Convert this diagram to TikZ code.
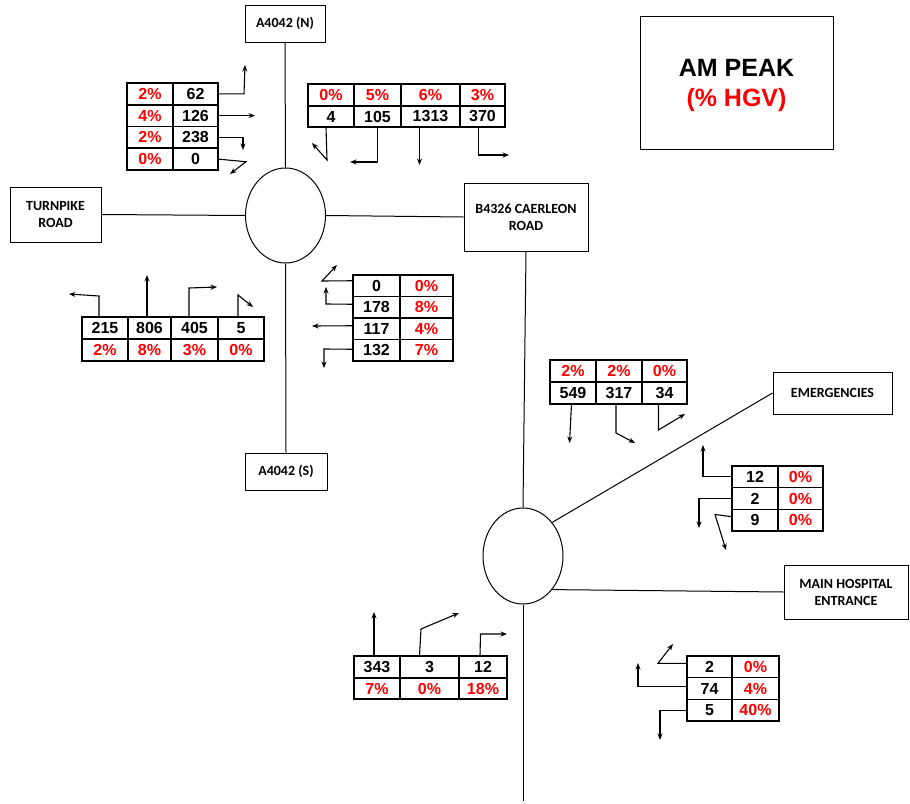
\documentclass[tikz,border=0pt]{standalone}
\usepackage{fontspec}
\setmainfont{Liberation Sans}
\newfontfamily\carlito{Carlito}
\usetikzlibrary{shapes.geometric,arrows.meta}
\newcommand\tcell[7]{\node[cellbox,#7,minimum width=#4pt,minimum height=#5pt] (#1) at (#2,#3) {#6};}
\begin{document}
\begin{tikzpicture}[x=1pt,y=-1pt,
  cellbox/.style={draw, line width=1.6pt, inner sep=0pt, outer sep=0pt, font=\fontsize{16}{16}\selectfont\bfseries},
  pc/.style={text=red},
  roadbox/.style={draw, line width=1pt, inner sep=0pt, align=center, font=\carlito\bfseries\fontsize{14}{17}\selectfont},
  road/.style={line width=1pt},
  arr/.style={line width=1.1pt, -{Stealth[length=6.5pt,width=5pt]}},
]
\useasboundingbox (0,0) rectangle (910,803);

% road boxes
\node[roadbox, minimum width=80pt, minimum height=37pt] (N) at (285,23.5) {A4042 (N)};
\node[roadbox, minimum width=91pt, minimum height=55pt] (TP) at (55.5,214.5) {TURNPIKE\\ROAD};
\node[roadbox, minimum width=124pt, minimum height=68pt] (CR) at (526,217) {B4326 CAERLEON\\ROAD};
\node[roadbox, minimum width=82pt, minimum height=37pt] (S) at (286,471.5) {A4042 (S)};
\node[roadbox, minimum width=119pt, minimum height=42pt] (EM) at (832.5,393) {EMERGENCIES};
\node[roadbox, minimum width=124pt, minimum height=54pt] (MH) at (846,592) {MAIN HOSPITAL\\ENTRANCE};
\node[draw, line width=1pt, minimum width=193pt, minimum height=133pt] (AM) at (736.5,82.5) {};
\node[align=center, font=\fontsize{25}{30}\selectfont\bfseries] (AMT) at (736.5,85.5) {AM PEAK\\\textcolor{red}{(\% HGV)}};

% roundabouts
\node[draw, ellipse, line width=1pt, minimum width=80pt, minimum height=95pt, inner sep=0pt] (E1) at (285.5,215.5) {};
\node[draw, ellipse, line width=1pt, minimum width=80pt, minimum height=96pt, inner sep=0pt] (E2) at (523,556) {};
\coordinate (bot) at (523,801);

\draw[road] (N.south) -- (E1.north);
\draw[road] (TP.east) -- (E1.west);
\draw[road] (E1.east) -- (CR.west);
\draw[road] (E1.south) -- (S.north);
\draw[road] (CR.south) -- (E2.north);
\draw[road] (E2.49) -- (EM.west);
\draw[road] (E2.-49) -- (MH.west);
\draw[road] (E2.south) -- (bot);

% Table 1
\tcell{t1a1}{150}{93.9}{46}{21.75}{2\%}{pc}
\tcell{t1b1}{195.5}{93.9}{45}{21.75}{62}{}
\tcell{t1a2}{150}{115.6}{46}{21.75}{4\%}{pc}
\tcell{t1b2}{195.5}{115.6}{45}{21.75}{126}{}
\tcell{t1a3}{150}{137.4}{46}{21.75}{2\%}{pc}
\tcell{t1b3}{195.5}{137.4}{45}{21.75}{238}{}
\tcell{t1a4}{150}{159.1}{46}{21.75}{0\%}{pc}
\tcell{t1b4}{195.5}{159.1}{45}{21.75}{0}{}
\draw[arr] (t1b1.east) -- (244,93.9) -- (245,65);
\draw[arr] (t1b2.east) -- (255,115.6);
\draw[arr] (t1b3.east) -- (243,137.4) -- (243,150);
\draw[arr] (t1b4.east) -- (246,161.7) -- (230,174);

% Table 2
\tcell{t2a1}{331}{95}{46}{22}{0\%}{pc}
\tcell{t2a2}{377.5}{95}{47}{22}{5\%}{pc}
\tcell{t2a3}{430.5}{95}{59}{22}{6\%}{pc}
\tcell{t2a4}{482.5}{95}{45}{22}{3\%}{pc}
\tcell{t2b1}{331}{116.5}{46}{21}{4}{}
\tcell{t2b2}{377.5}{116.5}{47}{21}{105}{}
\tcell{t2b3}{430.5}{116.5}{59}{21}{1313}{}
\tcell{t2b4}{482.5}{116.5}{45}{21}{370}{}
\draw[arr] ([xshift=-5pt]t2b1.south) -- (327,160) -- (312,143);
\draw[arr] (t2b2.south) -- (377.5,162) -- (350,162);
\draw[arr] ([xshift=-11pt]t2b3.south) -- (419.5,165);
\draw[arr] ([xshift=-4pt]t2b4.south) -- (478.5,155) -- (509,155);

% Table 3
\tcell{t3a1}{105}{328}{46}{22}{215}{}
\tcell{t3a2}{149.5}{328}{43}{22}{806}{}
\tcell{t3a3}{194.5}{328}{47}{22}{405}{}
\tcell{t3a4}{241}{328}{46}{22}{5}{}
\tcell{t3b1}{105}{350}{46}{22}{2\%}{pc}
\tcell{t3b2}{149.5}{350}{43}{22}{8\%}{pc}
\tcell{t3b3}{194.5}{350}{47}{22}{3\%}{pc}
\tcell{t3b4}{241}{350}{46}{22}{0\%}{pc}
\draw[arr] ([xshift=-6pt]t3a1.north) -- (99,296) -- (69,294);
\draw[arr] ([xshift=-2.5pt]t3a2.north) -- (147,275);
\draw[arr] ([xshift=-5.5pt]t3a3.north) -- (189,288) -- (217,287);
\draw[arr] ([xshift=-3pt]t3a4.north) -- (238,295) -- (253,307);

% Table 4
\tcell{t4a1}{376.5}{285.75}{47}{21.5}{0}{}
\tcell{t4b1}{426.5}{285.75}{53}{21.5}{0\%}{pc}
\tcell{t4a2}{376.5}{307.25}{47}{21.5}{178}{}
\tcell{t4b2}{426.5}{307.25}{53}{21.5}{8\%}{pc}
\tcell{t4a3}{376.5}{328.75}{47}{21.5}{117}{}
\tcell{t4b3}{426.5}{328.75}{53}{21.5}{4\%}{pc}
\tcell{t4a4}{376.5}{350.25}{47}{21.5}{132}{}
\tcell{t4b4}{426.5}{350.25}{53}{21.5}{7\%}{pc}
\draw[arr] ([yshift=5pt]t4a1.west) -- (322,281) -- (337,265);
\draw[arr] ([yshift=3pt]t4a2.west) -- (326,304) -- (326,287);
\draw[arr] ([yshift=3pt]t4a3.west) -- (312,326);
\draw[arr] ([yshift=1pt]t4a4.west) -- (324,349) -- (324,368);

% Table 5
\tcell{t5a1}{573}{371}{46}{22}{2\%}{pc}
\tcell{t5a2}{619}{371}{46}{22}{2\%}{pc}
\tcell{t5a3}{664.5}{371}{45}{22}{0\%}{pc}
\tcell{t5b1}{573}{393}{46}{22}{549}{}
\tcell{t5b2}{619}{393}{46}{22}{317}{}
\tcell{t5b3}{664.5}{393}{45}{22}{34}{}
\draw[arr] ([xshift=-1.5pt]t5b1.south) -- (569.5,443);
\draw[arr] ([xshift=-3pt]t5b2.south) -- (616,433) -- (635,443);
\draw[arr] ([xshift=-6pt]t5b3.south) -- (658.5,430) -- (685,414);

% Table 6
\tcell{t6a1}{755}{476.8}{46}{21.7}{12}{}
\tcell{t6b1}{800.5}{476.8}{45}{21.7}{0\%}{pc}
\tcell{t6a2}{755}{498.5}{46}{21.7}{2}{}
\tcell{t6b2}{800.5}{498.5}{45}{21.7}{0\%}{pc}
\tcell{t6a3}{755}{520.2}{46}{21.7}{9}{}
\tcell{t6b3}{800.5}{520.2}{45}{21.7}{0\%}{pc}
\draw[arr] (t6a1.west) -- (703,476.8) -- (703,445);
\draw[arr] (t6a2.west) -- (699,498.5) -- (699,528);
\draw[arr] ([yshift=3.5pt]t6a3.west) -- (715,514.5) -- (726,550);

% Table 7
\tcell{t7a1}{377}{667}{46}{22}{343}{}
\tcell{t7a2}{429.5}{667}{59}{22}{3}{}
\tcell{t7a3}{483}{667}{48}{22}{12}{}
\tcell{t7b1}{377}{688.5}{46}{21}{7\%}{pc}
\tcell{t7b2}{429.5}{688.5}{59}{21}{0\%}{pc}
\tcell{t7b3}{483}{688.5}{48}{21}{18\%}{pc}
\draw[arr] ([xshift=-3pt]t7a1.north) -- (374,612);
\draw[arr] ([xshift=-10pt]t7a2.north) -- (421,629) -- (459,613);
\draw[arr] ([xshift=-3pt]t7a3.north) -- (480.5,634) -- (507,634);

% Table 8
\tcell{t8a1}{709.5}{666.8}{45}{21.7}{2}{}
\tcell{t8b1}{755.5}{666.8}{47}{21.7}{0\%}{pc}
\tcell{t8a2}{709.5}{688.5}{45}{21.7}{74}{}
\tcell{t8b2}{755.5}{688.5}{47}{21.7}{4\%}{pc}
\tcell{t8a3}{709.5}{710.2}{45}{21.7}{5}{}
\tcell{t8b3}{755.5}{710.2}{47}{21.7}{40\%}{pc}
\draw[arr] ([yshift=3.5pt]t8a1.west) -- (658,663.3) -- (673,644);
\draw[arr] ([yshift=1.8pt]t8a2.west) -- (638,686.7) -- (638,663);
\draw[arr] (t8a3.west) -- (660,710.2) -- (660,740);
\end{tikzpicture}
\end{document}
